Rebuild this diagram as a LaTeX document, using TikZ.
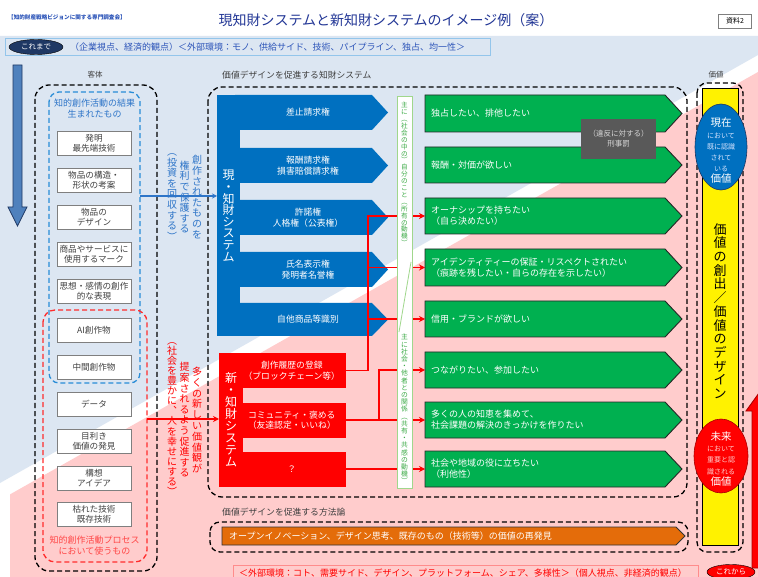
\documentclass[tikz,border=0pt]{standalone}
\usepackage{fontspec}
\setmainfont{Noto Sans CJK JP}
\usetikzlibrary{arrows.meta,shapes.geometric}
\definecolor{bgblue}{RGB}{220,230,242}
\definecolor{bgpink}{RGB}{255,204,204}
\definecolor{mblue}{RGB}{0,112,192}
\definecolor{tblue}{RGB}{46,117,200}
\definecolor{dashblue}{RGB}{40,140,215}
\definecolor{dashred}{RGB}{255,45,45}
\definecolor{tred}{RGB}{255,70,70}
\definecolor{mgreen}{RGB}{0,176,80}
\definecolor{lgreen}{RGB}{160,215,140}
\definecolor{vgreen}{RGB}{60,170,70}
\definecolor{ttl}{RGB}{35,55,150}
\definecolor{hblue}{RGB}{45,85,185}
\definecolor{navy}{RGB}{31,56,100}
\definecolor{arrblue}{RGB}{79,129,189}
\definecolor{pengray}{RGB}{89,89,89}
\definecolor{pentext}{RGB}{215,215,215}
\definecolor{orng}{RGB}{228,108,10}
\definecolor{darkred}{RGB}{170,0,0}
\definecolor{txtgray}{RGB}{64,64,64}
\definecolor{boxgray}{RGB}{127,127,127}
\definecolor{lpink}{RGB}{255,205,205}
\definecolor{lblu}{RGB}{215,228,255}

\ExplSyntaxOn
\NewDocumentCommand \vtext { m m }
  {
    \vbox:n
      {
        \skip_set:Nn \baselineskip { #1 pt }
        \dim_set:Nn \lineskiplimit { -100pt }
        \tl_map_inline:nn { #2 } { \hbox_to_wd:nn { 1em } { \hss ##1 \hss } }
      }
  }
\ExplSyntaxOff
\newcommand\myfs[2]{\fontsize{#1}{#2}\selectfont}

\begin{document}
\begin{tikzpicture}[x=1pt,y=-1pt,
  blkdash/.style={draw=black, line width=1.3pt, dash pattern=on 5pt off 3pt, rounded corners=14pt},
  bluedash/.style={draw=dashblue, line width=1.3pt, dash pattern=on 5pt off 3pt, rounded corners=10pt},
  reddash/.style={draw=dashred, line width=1.3pt, dash pattern=on 5pt off 3pt, rounded corners=12pt},
  wbox/.style={draw=boxgray, fill=white, minimum width=74pt, minimum height=24pt, inner sep=1pt, align=center, font=\myfs{8.6}{10}, text=txtgray},
  btext/.style={text=white, font=\myfs{8.8}{10.5}, align=center, inner sep=0pt},
  rtext/.style={fill=red, text=white, minimum width=108pt, minimum height=35pt, font=\myfs{8.8}{10.5}, align=center, inner sep=1pt, anchor=east},
  gtext/.style={anchor=west, text=white, font=\myfs{9}{11}, align=left, inner sep=0pt},
  redline/.style={red, line width=1.5pt},
  rtip/.style={-{Stealth[length=6pt,width=6pt]}},
  garrow/.style={fill=mgreen, draw=black!85, line width=0.9pt},
  lbl/.style={anchor=west, font=\myfs{8.8}{10}, text=txtgray, inner sep=0pt}
]
\useasboundingbox (0,0) rectangle (758,577);
% background
\fill[white] (0,0) rectangle (758,577);
\fill[bgblue] (0,36) -- (758,36) -- (758,55) -- (0,483) -- cycle;
\fill[bgpink] (10,494.4) -- (758,72) -- (758,577) -- (10,577) -- cycle;

% header
\node[font=\myfs{5.6}{6}\bfseries, text=hblue, anchor=west, inner sep=0pt] (hdr) at (8,17) {【知的財産戦略ビジョンに関する専門調査会】};
\node[font=\myfs{14}{16}, text=ttl, inner sep=0pt] (title) at (386,20) {現知財システムと新知財システムのイメージ例（案）};
\node[draw=boxgray, fill=white, font=\myfs{7}{8}, minimum width=33pt, minimum height=14pt, inner sep=0pt] (doc) at (735,21) {資料2};

\node[draw=dashblue!50, minimum width=485pt, minimum height=17pt, anchor=west, inner sep=0pt] (oldrow) at (5,47) {};
\node[ellipse, fill=navy, draw=black, text=white, font=\myfs{7.5}{8}, minimum width=54pt, minimum height=15pt, inner sep=0pt] (kore) at (36,47) {これまで};
\node[anchor=west, text=hblue, font=\myfs{9}{10}, inner sep=0pt] (oldtxt) at (70,47) {（企業視点、経済的観点）＜外部環境：モノ、供給サイド、技術、パイプライン、独占、均一性＞};

% left arrow
\filldraw[fill=arrblue, draw=navy, line width=0.8pt] (13,65) -- (22,65) -- (22,207) -- (27,207) -- (17.5,226) -- (8,207) -- (13,207) -- cycle;

% left column
\node[font=\myfs{7.5}{8}, text=txtgray] (kyaku) at (95,75) {客体};
\draw[blkdash] (35,85) rectangle (157,571);
\draw[bluedash] (49,92) rectangle (140,383);
\draw[reddash] (43,310) rectangle (147,562);
\coordinate (bsrc) at (140,196);
\coordinate (rsrc) at (147,419);
\node[text=tblue, font=\myfs{9}{11}, align=center] (kekka) at (94.5,108.5) {知的創作活動の結果\\生まれたもの};
\node[wbox] (w1) at (94,143) {発明\\最先端技術};
\node[wbox] (w2) at (94,180) {物品の構造・\\形状の考案};
\node[wbox] (w3) at (94,217) {物品の\\デザイン};
\node[wbox] (w4) at (94,254) {商品やサービスに\\使用するマーク};
\node[wbox] (w5) at (94,291) {思想・感情の創作\\的な表現};
\node[wbox] (w6) at (94,330) {AI創作物};
\node[wbox] (w7) at (94,367) {中間創作物};
\node[wbox] (w8) at (94,404) {データ};
\node[wbox] (w9) at (94,441) {目利き\\価値の発見};
\node[wbox] (w10) at (94,478) {構想\\アイデア};
\node[wbox] (w11) at (94,514) {枯れた技術\\既存技術};
\node[text=tred, font=\myfs{9}{11}, align=center] (proc) at (94.5,546) {知的創作活動プロセス\\において使うもの};

% middle system box
\node[lbl] (sysl) at (222,75) {価値デザインを促進する知財システム};
\draw[blkdash] (208,87) rectangle (687,497);

% current IP system (blue)
\foreach \t/\b in {95/130,148/183,200/235,252/287,303/336}
  \fill[mblue] (235,\t) -- (372,\t) -- (388,{(\t+\b)/2}) -- (372,\b) -- (235,\b) -- cycle;
\node[fill=mblue, minimum width=23pt, minimum height=241pt, anchor=north west, inner sep=0pt] (curSys) at (217,95) {};
\node[btext] (b1) at (308,112.5) {差止請求権};
\node[btext] (b2) at (308,165.5) {報酬請求権\\損害賠償請求権};
\node[btext] (b3) at (308,217.5) {許諾権\\人格権（公表権）};
\node[btext] (b4) at (308,269.5) {氏名表示権\\発明者名誉権};
\node[btext] (b5) at (308,319.5) {自他商品等識別};
\node[text=white, font=\myfs{12}{12}, inner sep=0pt] (curLbl) at (228.5,216) {\vtext{11.6}{現・知財システム}};

% new IP system (red)
\node[fill=red, minimum width=24pt, minimum height=134pt, anchor=north west, inner sep=0pt] (newSys) at (219,353) {};
\node[rtext] (n1) at (346,370.5) {創作履歴の登録\\（ブロックチェーン等）};
\node[rtext] (n2) at (346,420) {コミュニティ・褒める\\（友達認定・いいね）};
\node[rtext] (n3) at (346,469) {？};
\node[text=white, font=\myfs{12}{12}, inner sep=0pt] (newLbl) at (231,420) {\vtext{12}{新・知財システム}};

% connectors from left
\draw[line width=1.2pt, tblue, -{Stealth[length=5pt,width=5pt]}] (bsrc) -- (curSys.west |- bsrc);
\draw[redline, rtip] (rsrc) -- (newSys.west |- rsrc);
\node[text=tblue, font=\myfs{10}{10}, inner sep=0pt] (vb1) at (197,197) {\vtext{10.6}{創作されたものを}};
\node[text=tblue, font=\myfs{10}{10}, inner sep=0pt] (vb2) at (184.5,197) {\vtext{10.6}{権利で保護する}};
\node[text=tblue, font=\myfs{10}{10}, inner sep=0pt] (vb3) at (172,197) {\vtext{10.6}{︵投資を回収する︶}};
\node[text=red, font=\myfs{10}{10}, inner sep=0pt] (vr1) at (197,420) {\vtext{10.8}{多くの新しい価値観が}};
\node[text=red, font=\myfs{10}{10}, inner sep=0pt] (vr2) at (184.5,420) {\vtext{10.6}{提案されるよう促進する}};
\node[text=red, font=\myfs{10}{10}, inner sep=0pt] (vr3) at (172,419) {\vtext{10.1}{︵社会を豊かに︑人を幸せにする︶}};

% green arrows
\coordinate (g1w) at (425,113.5);
\coordinate (g2w) at (425,165);
\coordinate (g3w) at (425,216);
\coordinate (g4w) at (425,267.5);
\coordinate (g5w) at (425,319);
\coordinate (g6w) at (425,370);
\coordinate (g7w) at (425,420);
\coordinate (g8w) at (425,469);
\coordinate (j1) at (368,0);
\coordinate (j2) at (379,0);

\draw[redline, rtip] (n1.east) -| (j1 |- g3w) -- (g3w);
\draw[redline, rtip] (j1 |- g4w) -- (g4w);
\draw[redline, rtip] (j1 |- g5w) -- (g5w);
\draw[redline, rtip] (n2.east) -- (g7w);
\draw[redline, rtip] (j2 |- n2.east) |- (g6w);
\draw[redline, rtip] (n3.east) -- (g8w);

\node[draw=lgreen, fill=white, line width=1pt, minimum width=15pt, minimum height=392pt, anchor=north west, inner sep=0pt] (gbar) at (397,96) {};
\draw[lgreen, line width=0.8pt] (411,262) -- (399,332);
\node[text=vgreen, font=\myfs{6.6}{7}, inner sep=0pt] (gv1) at (404.5,174) {\vtext{6.9}{主に︵社会の中の︶自分のこと︵所有の動機︶}};
\node[text=vgreen, font=\myfs{6.8}{7}, inner sep=0pt] (gv2) at (404.5,409) {\vtext{7.2}{主に社会・他者との関係︵共有・共感の動機︶}};

\foreach \t/\b in {95/132,147/183,198/234,249/286,301/337,352/388,402/438,451/487}
  \filldraw[garrow] (425,\t) -- (665,\t) -- (682,{(\t+\b)/2}) -- (665,\b) -- (425,\b) -- cycle;
\node[gtext] (gt1) at (431,113.5) {独占したい、排他したい};
\node[gtext] (gt2) at (431,165) {報酬・対価が欲しい};
\node[gtext] (gt3) at (431,216) {オーナシップを持ちたい\\（自ら決めたい）};
\node[gtext] (gt4) at (431,267.5) {アイデンティティーの保証・リスペクトされたい\\（痕跡を残したい・自らの存在を示したい）};
\node[gtext] (gt5) at (431,319) {信用・ブランドが欲しい};
\node[gtext] (gt6) at (431,370) {つながりたい、参加したい};
\node[gtext] (gt7) at (431,420) {多くの人の知恵を集めて、\\社会課題の解決のきっかけを作りたい};
\node[gtext] (gt8) at (431,469) {社会や地域の役に立ちたい\\（利他性）};

\node[fill=pengray, text=pentext, minimum width=75pt, minimum height=40pt, align=center, font=\myfs{7.5}{10}, inner sep=0pt] (pen) at (618.5,139) {（違反に対する）\\刑事罰};

% right column
\node[font=\myfs{7.5}{8}, text=txtgray] (kachi) at (716,75) {価値};
\draw[blkdash, rounded corners=10pt] (697,83) rectangle (743,552);
\node[fill=yellow, draw=black, line width=0.9pt, minimum width=36pt, minimum height=457pt, anchor=north west, inner sep=0pt] (ybar) at (702,88) {};
\node[ellipse, fill=mblue, draw=navy, line width=0.6pt, minimum width=52pt, minimum height=86pt, inner sep=0pt] (nowE) at (721,147) {};
\node[text=lblu, font=\myfs{7}{11.2}, align=center, inner sep=0pt] (nowT) at (721,151) {{\myfs{10.5}{11}\color{white}現在}\\において\\既に認識\\されて\\いる\\{\myfs{10.5}{11}\color{white}価値}};
\node[ellipse, fill=red, draw=darkred, line width=0.6pt, minimum width=54pt, minimum height=74pt, inner sep=0pt] (futE) at (721,456) {};
\node[text=lpink, font=\myfs{7}{11.4}, align=center, inner sep=0pt] (futT) at (721,459) {{\myfs{10.5}{11}\color{white}未来}\\において\\重要と認\\識される\\{\myfs{10.5}{11}\color{white}価値}};
\node[font=\myfs{13}{13}, inner sep=0pt] (ytxt) at (720,311) {\vtext{13.7}{価値の創出／価値のデザイン}};

% red up arrow at right edge
\filldraw[fill=red, draw=darkred, line width=0.9pt] (752,568) -- (752,411) -- (746,411) -- (759,393) -- (772,411) -- (766,411) -- (766,568) -- cycle;

% bottom
\node[lbl] (methl) at (222,512) {価値デザインを促進する方法論};
\draw[blkdash, rounded corners=10pt] (210,522) rectangle (688,552);
\filldraw[fill=orng, draw=black!80, line width=0.9pt] (222,527) -- (676,527) -- (685,536) -- (676,545) -- (222,545) -- cycle;
\node[anchor=west, text=white, font=\myfs{9}{10}, inner sep=0pt] (meth) at (229,536) {オープンイノベーション、デザイン思考、既存のもの（技術等）の価値の再発見};

\node[draw=red!45, minimum width=465pt, minimum height=16pt, anchor=west, inner sep=0pt] (newrow) at (233,573) {};
\node[anchor=west, text=red, font=\myfs{9}{10}, inner sep=0pt] (newtxt) at (239,573) {＜外部環境：コト、需要サイド、デザイン、プラットフォーム、シェア、多様性＞（個人視点、非経済的観点）};
\node[ellipse, fill=red, draw=black, text=white, font=\myfs{7.5}{8}, minimum width=48pt, minimum height=15pt, inner sep=0pt] (koreK) at (731,572) {これから};
\end{tikzpicture}
\end{document}
